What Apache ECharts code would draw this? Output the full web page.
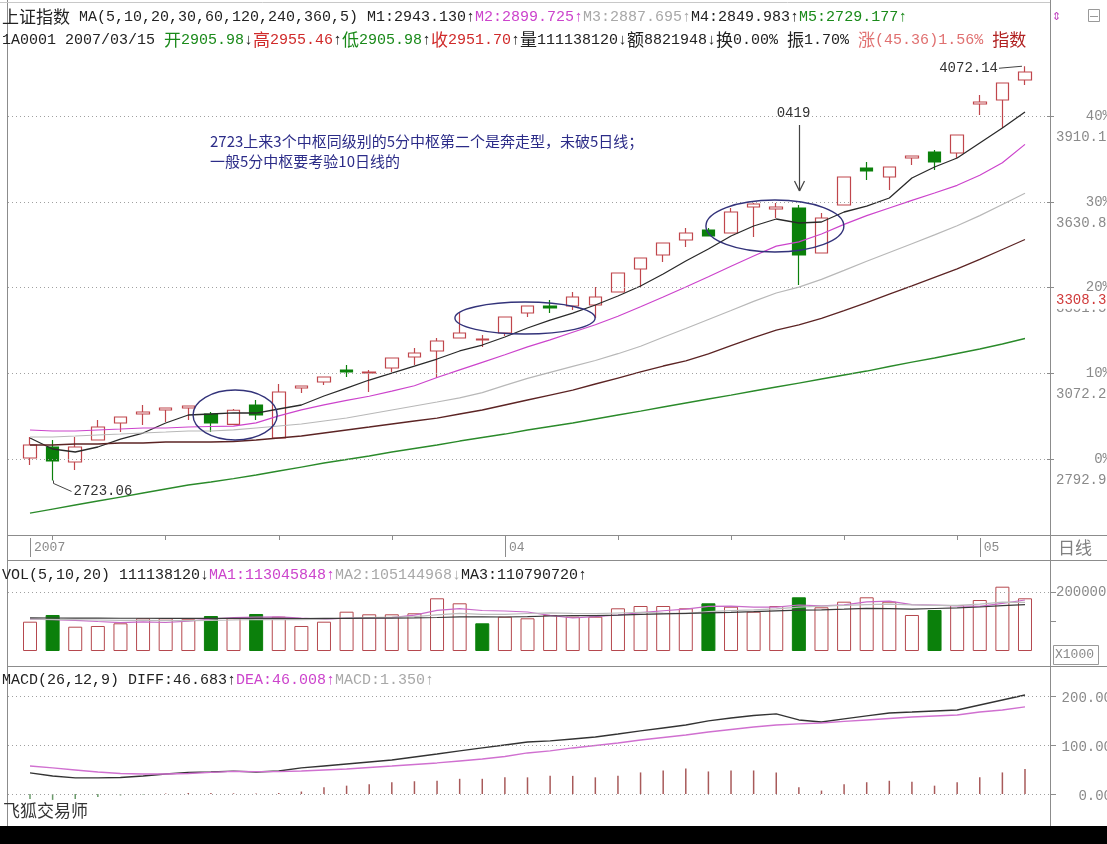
<!DOCTYPE html>
<html><head><meta charset="utf-8">
<script src="https://cdn.jsdelivr.net/npm/echarts@6/dist/echarts.min.js"></script>
<style>html,body{margin:0;padding:0;background:#fff;}#c{width:1107px;height:844px;}</style>
</head><body><div id="c"></div>
<script>
// ---------------- DATA ----------------
const dates = ['2007-03-02','2007-03-05','2007-03-06','2007-03-07','2007-03-08','2007-03-09',
 '2007-03-12','2007-03-13','2007-03-14','2007-03-15','2007-03-16',
 '2007-03-19','2007-03-20','2007-03-21','2007-03-22','2007-03-23',
 '2007-03-26','2007-03-27','2007-03-28','2007-03-29','2007-03-30',
 '2007-04-02','2007-04-03','2007-04-04','2007-04-05','2007-04-06',
 '2007-04-09','2007-04-10','2007-04-11','2007-04-12','2007-04-13',
 '2007-04-16','2007-04-17','2007-04-18','2007-04-19','2007-04-20',
 '2007-04-23','2007-04-24','2007-04-25','2007-04-26','2007-04-27',
 '2007-04-30','2007-05-08','2007-05-09','2007-05-10'];
const opens  = [2796.2,2832.0,2783.1,2854.8,2910.2,2939.5,2952.5,2959.0,2939.5,2905.98,
 2968.8,2861.3,3024.1,3043.7,3082.8,3073.0,3089.3,3125.1,3144.7,3187.0,
 3180.5,3203.3,3268.4,3291.2,3291.2,3294.5,3336.8,3411.7,3457.3,3506.2,
 3538.8,3529.0,3613.7,3607.2,3610.4,3463.8,3620.2,3740.7,3711.4,3773.3,
 3792.8,3789.5,3949.1,3962.2,4027.3];
const closes = [2838.5,2786.4,2832.0,2897.1,2929.7,2946.0,2959.0,2965.5,2910.2,2951.70,
 2936.2,3011.1,3030.7,3060.0,3076.3,3076.3,3121.9,3138.1,3177.2,3203.3,
 3183.7,3255.4,3291.2,3284.7,3320.5,3320.5,3398.7,3447.6,3496.4,3529.0,
 3519.2,3597.4,3623.4,3613.7,3457.3,3577.8,3711.4,3730.9,3743.9,3779.8,
 3760.2,3848.2,3955.6,4017.5,4053.4];
const lows   = [2773.4,2723.06,2757.1,2854.8,2880.8,2903.6,2913.4,2919.9,2880.8,2905.98,
 2919.9,2861.3,3007.9,3033.9,3060.0,3011.1,3076.3,3099.1,3056.7,3187.0,
 3157.7,3193.5,3255.4,3268.4,3278.2,3252.1,3336.8,3353.1,3434.5,3483.4,
 3519.2,3529.0,3516.0,3577.8,3359.6,3463.8,3620.2,3701.6,3669.0,3750.5,
 3734.2,3773.3,3913.3,3871.0,4011.0];
const highs  = [2864.6,2854.8,2864.6,2919.9,2929.7,2968.8,2959.0,2965.5,2946.0,2955.46,
 2985.1,3037.2,3030.7,3060.0,3099.1,3082.8,3121.9,3154.4,3187.0,3271.7,
 3196.8,3255.4,3291.2,3310.8,3336.8,3353.1,3398.7,3447.6,3496.4,3545.3,
 3545.3,3610.4,3626.7,3626.7,3620.2,3594.1,3711.4,3760.2,3743.9,3779.8,
 3799.3,3848.2,3978.4,4017.5,4072.14];
const ma5  = [2861.3,2825.5,2815.7,2832.0,2858.0,2877.6,2910.2,2936.2,2939.5,2943.13,
 2942.7,2955.8,2968.8,2998.1,3024.1,3050.2,3073.0,3095.8,3118.6,3144.7,
 3164.2,3190.3,3219.6,3245.6,3268.4,3294.5,3323.8,3356.4,3395.4,3437.8,
 3476.9,3519.2,3551.8,3574.6,3561.6,3564.8,3597.4,3616.9,3643.0,3708.1,
 3743.9,3773.3,3822.1,3871.0,3923.1];
const ma10 = [2887.4,2884.1,2884.1,2887.4,2890.6,2893.9,2893.9,2897.1,2898.8,2899.73,
 2910.8,2933.3,2953.1,2969.4,2984.1,2997.4,3014.0,3031.6,3058.3,3083.1,
 3107.8,3132.3,3158.3,3181.1,3205.6,3230.0,3257.7,3288.6,3320.5,3353.1,
 3386.7,3420.8,3454.1,3486.3,3500.0,3525.7,3557.0,3585.7,3610.4,3635.2,
 3659.3,3684.3,3717.3,3757.9,3817.6];
const ma20 = [2864.6,2864.6,2867.8,2871.1,2874.3,2877.6,2880.8,2884.1,2884.1,2887.70,
 2893.9,2900.4,2906.9,2916.7,2926.4,2939.5,2952.5,2965.5,2978.5,2991.9,
 3009.2,3032.6,3055.7,3075.3,3094.8,3113.7,3135.9,3160.0,3189.3,3217.9,
 3247.2,3276.6,3306.2,3333.6,3352.8,3377.9,3407.2,3437.1,3465.5,3494.1,
 3522.8,3552.4,3585.7,3622.1,3658.6];
const ma30 = [2838.5,2838.5,2841.8,2841.8,2845.0,2845.0,2848.3,2848.3,2848.3,2849.98,
 2854.8,2861.3,2867.8,2877.6,2887.4,2897.1,2906.9,2916.7,2926.4,2939.5,
 2952.5,2968.8,2985.1,3001.3,3017.6,3037.2,3056.7,3076.3,3095.8,3112.4,
 3135.2,3162.2,3188.6,3212.4,3230.0,3251.2,3276.2,3302.0,3329.7,3357.0,
 3384.7,3412.4,3443.3,3475.3,3507.8];
const ma60 = [2617.0,2630.0,2643.1,2656.1,2669.1,2682.2,2695.2,2708.2,2718.0,2729.18,
 2740.8,2753.8,2766.8,2779.9,2791.3,2802.7,2815.7,2827.1,2838.5,2851.5,
 2862.9,2874.3,2887.4,2898.8,2910.2,2923.2,2936.2,2949.2,2962.3,2975.3,
 2988.3,3001.3,3014.4,3027.4,3040.4,3053.5,3066.5,3079.5,3094.2,3108.8,
 3121.9,3136.5,3151.2,3167.5,3185.4];
// volume in units of 1000 shares
const volume = [99320,122034,82373,84746,93898,110847,110847,107458,118644,111138,
 125424,116271,84746,99320,133220,124407,124407,127797,178644,161695,
 93898,116271,110847,122034,116271,116271,144746,152542,152542,144746,
 161695,150169,133220,152542,182034,148136,167119,182034,167119,122034,
 138983,155932,172881,217966,178644];
const volUp = [1,0,1,1,1,1,1,1,0,1, 0,1,1,1,1,1,1,1,1,1, 0,1,1,1,1,1,1,1,1,1,
 0,1,1,1,0,1,1,1,1,1, 0,1,1,1,1];
const volMa1 = [108000,106000,104000,100000,96474,98780,96542,101559,108339,113046,
 114702,115787,111245,107380,111796,111593,113220,121830,137695,143390,
 137288,135661,132271,120949,111864,116339,122034,130373,136474,142169,
 151254,152339,148474,148474,155932,153220,156610,166373,169288,157288,
 155458,153220,151390,161559,172881];
const volMa2 = [108000,107000,106000,105000,104000,104000,103000,103000,104000,105145,
 106741,106165,106402,107860,111792,113148,114504,116538,122538,127594,
 124441,124441,127051,129322,127627,126814,128847,131322,128712,127017,
 133797,137187,139424,142475,149051,152238,154475,157424,158882,156611,
 154340,154916,158882,165424,165085];
const volMa3 = [112000,111800,111500,111300,111100,111000,110900,110850,110800,110791,
 110500,110300,110200,110400,110800,111200,111600,112200,113500,115862,
 115591,115303,116726,118591,119709,119981,121675,123930,125625,127305,
 129119,130813,133237,135898,138339,139525,141661,144373,143797,141814,
 144068,146051,149153,153949,157068];
const diff = [42.9,36.7,32.7,32.7,33.7,36.7,40.8,43.9,44.9,46.68,
 44.9,46.9,53.1,57.1,61.2,65.3,69.4,75.5,81.6,87.8,
 93.9,100.0,106.1,108.2,112.2,116.3,122.4,128.6,134.7,140.8,
 149.0,155.1,160.2,163.3,151.0,146.9,153.1,159.2,165.3,167.3,
 169.4,171.4,181.6,191.8,202.0];
const dea = [57.1,53.1,49.0,44.9,41.8,40.8,40.8,41.8,44.0,46.01,
 45.5,45.5,46.9,49.0,51.0,54.1,57.1,60.2,63.3,67.3,
 71.4,76.5,83.7,87.8,93.9,99.0,104.1,110.2,115.3,120.4,
 126.5,131.6,136.7,140.8,142.9,144.9,148.0,151.0,154.1,157.1,
 159.2,161.2,167.3,171.4,177.6];
const macd = [-10,-12,-10,-6,-3,-1,1,2,2,1.35,
 1,2,5,14,17,20,24,26,27,31,
 31,34,34,37,37,34,37,44,48,52,
 46,48,48,44,14,7,20,24,27,25,
 17,24,34,44,51];
const pctBase = 2792.96;
const pctLevels = [0, 10, 20, 30, 40];
const cursorPrice = 3308.3;
const volTicks = [100000, 200000];
const macdTicks = [0, 100, 200];

// ---------------- STYLE ----------------
const MONO = "'Liberation Mono','DejaVu Sans Mono',monospace";
const CJK = "'Noto Sans CJK SC','Noto Sans',sans-serif";
const COL = {up:'#c0464c', down:'#0b800b', ma5:'#2a2a2a', ma10:'#cc44cc', ma20:'#b8b8b8',
  ma30:'#5c2424', ma60:'#2a8a2a', dot:'#a0a0a0', frame:'#8c8c8c', axis:'#8a8a8a', note:'#2c2c88'};

const chart = echarts.init(document.getElementById('c'), null, {renderer:'canvas'});
const L = 18.7, R = 70.7;
const monthOf = d => d.slice(5,7);
const isLabel = i => i === 0 || monthOf(dates[i]) !== monthOf(dates[i-1]);

const lineS = (name, data, color, g, w) => ({name, type:'line', data, xAxisIndex:g, yAxisIndex:g,
  symbol:'none', showSymbol:false, silent:true, z:4, lineStyle:{color, width:w||1.2}, itemStyle:{color}});

const candleData = opens.map((o,i)=>[o, closes[i], lows[i], highs[i]]);

const option = {
  animation:false,
  backgroundColor:'#ffffff',
  grid:[
    {left:L, right:R, top:40, bottom:309, outerBoundsMode:'none'},
    {left:L, right:R, top:565, bottom:193, outerBoundsMode:'none'},
    {left:L, right:R, top:668, bottom:18, outerBoundsMode:'none'}
  ],
  xAxis:[
    {type:'category', gridIndex:0, data:dates, boundaryGap:true,
      axisLine:{show:false}, splitLine:{show:false},
      axisTick:{show:true, alignWithLabel:true, length:5, interval:(i)=>i%5===1, lineStyle:{color:COL.frame}},
      axisLabel:{show:true, interval:(i)=>isLabel(i), formatter:(v,i)=> i===0 ? v.slice(0,4) : monthOf(v),
        align:'left', padding:[0,0,0,4], margin:6, color:COL.axis, fontFamily:MONO, fontSize:13}},
    {type:'category', gridIndex:1, data:dates, boundaryGap:true, show:false},
    {type:'category', gridIndex:2, data:dates, boundaryGap:true, show:false}
  ],
  yAxis:[
    {type:'value', gridIndex:0, min:2545.4, max:4157.6, show:false, splitLine:{show:false}},
    {type:'value', gridIndex:1, min:0, max:291525, show:false, splitLine:{show:false}},
    {type:'value', gridIndex:2, min:-65.3, max:257.1, show:false, splitLine:{show:false}}
  ],
  series:[
    {name:'K', type:'candlestick', data:candleData, xAxisIndex:0, yAxisIndex:0, barWidth:13, z:2,
      itemStyle:{color:'#ffffff', color0:COL.down, borderColor:COL.up, borderColor0:COL.down, borderWidth:1.2}},
    lineS('MA5', ma5, COL.ma5, 0, 1.3),
    lineS('MA10', ma10, COL.ma10, 0, 1.2),
    lineS('MA20', ma20, COL.ma20, 0, 1.2),
    lineS('MA30', ma30, COL.ma30, 0, 1.3),
    lineS('MA60', ma60, COL.ma60, 0, 1.3),
    {name:'VOL', type:'bar', xAxisIndex:1, yAxisIndex:1, barWidth:14, z:2,
      data: volume.map((v,i)=>({value:v, itemStyle: volUp[i]
        ? {color:'#ffffff', borderColor:'#b5484e', borderWidth:1}
        : {color:COL.down, borderColor:COL.down, borderWidth:1}}))},
    lineS('VMA1', volMa1, '#c86ac8', 1, 1.2),
    lineS('VMA2', volMa2, '#bdbdbd', 1, 1.2),
    lineS('VMA3', volMa3, '#3a3a3a', 1, 1.2),
    {name:'MACD', type:'bar', xAxisIndex:2, yAxisIndex:2, barWidth:1.5, z:2,
      data: macd.map(v=>({value:v, itemStyle:{color: v>=0 ? '#a85a5a' : '#6a9a6a'}}))},
    lineS('DIFF', diff, '#333333', 2, 1.3),
    lineS('DEA', dea, '#d070d0', 2, 1.3)
  ]
};
chart.setOption(option);

// ---------------- DECORATION (positions from the chart's scales) ----------------
const x0 = chart.convertToPixel({xAxisIndex:0}, 0);
const step = chart.convertToPixel({xAxisIndex:0}, 1) - x0;
const X = i => x0 + i*step;
const Y = (v, g) => chart.convertToPixel({yAxisIndex:g||0}, v);
const G = [];
const ln = (x1,y1,x2,y2,stroke,lw,dash) => G.push({type:'line', silent:true, z:10,
  shape:{x1,y1,x2,y2}, style:{stroke, lineWidth:lw||1, lineDash:dash||null}});
const tx = (x,y,t,font,fill,align,extra) => G.push({type:'text', silent:true, z:20, x, y,
  style:Object.assign({text:t, font, fill, align:align||'left', verticalAlign:'middle',
    textAlign:align||'left', textVerticalAlign:'middle'}, extra||{})});
const F = (s, cjk) => `${s}px ${cjk ? CJK : MONO}`;

// black band at bottom
G.push({type:'rect', silent:true, z:30, shape:{x:0,y:826,width:1107,height:18}, style:{fill:'#000'}});
// frame
ln(7.5,0,7.5,826,COL.frame);
ln(1050.5,0,1050.5,826,COL.frame);
ln(0,2.5,1050,2.5,'#c8c8c8');
ln(7,535.5,1107,535.5,COL.frame);
ln(7,560.5,1107,560.5,COL.frame);
ln(7,666.5,1107,666.5,COL.frame);

// price grid (percent from base)
pctLevels.forEach(p=>{
  const v = pctBase*(1+p/100), y = Math.round(Y(v))+0.5;
  ln(8,y,1050,y,COL.dot,1,[1,3]);
  ln(1047,y,1054,y,COL.frame);
  tx(1111,y,p+'%',F(14),COL.axis,'right');
  tx(1056,y+21,v.toFixed(2),F(14),COL.axis,'left');
});
tx(1056,Y(cursorPrice),cursorPrice.toFixed(1),F(14),'#d03a3a','left',{backgroundColor:'#fff', padding:[1,6,1,0]});

// date row label ticks
dates.forEach((d,i)=>{ if(isLabel(i)) ln(Math.round(X(i))+0.5,538,Math.round(X(i))+0.5,557,COL.frame); });
tx(1058,548,'日线',F(17,true),'#808080');

// volume axis
volTicks.forEach(v=>{
  const y = Math.round(Y(v,1))+0.5;
  if (v === 200000) { ln(8,y,1050,y,COL.dot,1,[1,3]); tx(1056,y,String(v),F(14),COL.axis,'left'); }
  ln(1050,y,1056,y,COL.frame);
});
G.push({type:'rect', silent:true, z:20, shape:{x:1053.5,y:645.5,width:45,height:19}, style:{fill:'none', stroke:'#999', lineWidth:1}});
tx(1055,655,'X1000',F(13),COL.axis,'left');

// macd axis
macdTicks.forEach(v=>{
  const y = Math.round(Y(v,2))+0.5;
  ln(8,y,1050,y,COL.dot,1,[1,3]);
  ln(1050,y,1056,y,COL.frame);
  tx(1112,y+2,v.toFixed(2),F(14),COL.axis,'right');
});

// headers (rich text)
const rs = (fill,cjk,size) => ({fill, color:fill, font:F(size|| (cjk?17:15), cjk)});
const rich = {k:rs('#222'), m:rs('#cc44cc'), g:rs('#a8a8a8'), gr:rs('#1a8a1a'), r:rs('#d02a2a'), p:rs('#e07070'),
  ck:rs('#222',true), cgr:rs('#1a8a1a',true), cr:rs('#d02a2a',true), cp:rs('#e07070',true), cdr:rs('#b02020',true)};
const rt = (x,y,segs) => G.push({type:'text', silent:true, z:20, x, y,
  style:{text:segs.map(s=>`{${s[1]}|${s[0]}}`).join(''), rich, align:'left', verticalAlign:'middle', textAlign:'left', textVerticalAlign:'middle'}});
rt(2,17,[['上证指数','ck'],[' MA(5,10,20,30,60,120,240,360,5) ','k'],['M1:2943.130','k'],['↑','k'],
  ['M2:2899.725','m'],['↑','m'],['M3:2887.695','g'],['↑','g'],['M4:2849.983','k'],['↑','k'],['M5:2729.177','gr'],['↑','gr']]);
rt(2,40,[['1A0001 2007/03/15 ','k'],['开','cgr'],['2905.98','gr'],['↓','k'],['高','cr'],['2955.46','r'],['↑','k'],
  ['低','cgr'],['2905.98','gr'],['↑','k'],['收','cr'],['2951.70','r'],['↑','k'],['量','ck'],['111138120','k'],['↓','k'],
  ['额','ck'],['8821948','k'],['↓','k'],['换','ck'],['0.00% ','k'],['振','ck'],['1.70% ','k'],['涨','cp'],['(45.36)1.56% ','p'],['指数','cdr']]);
rt(2,575,[['VOL(5,10,20) 111138120','k'],['↓','k'],['MA1:113045848','m'],['↑','m'],['MA2:105144968','g'],['↓','g'],['MA3:110790720','k'],['↑','k']]);
rt(2,680,[['MACD(26,12,9) DIFF:46.683','k'],['↑','k'],['DEA:46.008','m'],['↑','m'],['MACD:1.350','g'],['↑','g']]);
tx(1052,16,'⇕',F(15),'#c040c0','left');
G.push({type:'rect', silent:true, z:20, shape:{x:1088.5,y:9.5,width:11,height:12}, style:{fill:'none', stroke:'#999', lineWidth:1}});
ln(1090,16.5,1098,16.5,'#999');
tx(3,811,'飞狐交易师',F(17,true),'#333','left');

// annotations
tx(210,141,'2723上来3个中枢同级别的5分中枢第二个是奔走型，未破5日线；',F(15,true),COL.note,'left');
tx(210,161,'一般5分中枢要考验10日线的',F(15,true),COL.note,'left');
const ell = (ci, cp, di, dp) => {
  const cx = X(ci), cy = Y(cp), rx = di*step, ry = Math.abs(Y(cp+dp)-cy);
  G.push({type:'ellipse', silent:true, z:12, shape:{cx, cy, rx, ry}, style:{fill:'none', stroke:'#33337a', lineWidth:1.4}});
};
ell(9.07, 2936.2, 1.86, 81.4);
ell(21.89, 3252.1, 3.1, 52);
ell(32.94, 3551.8, 3.05, 84.7);
// 0419 arrow
const ai = dates.indexOf('2007-04-19');
const ax = Math.round(X(ai))+0.5, ay = Y(highs[ai]);
ln(ax, ay-80, ax, ay-14, '#444', 1.2);
ln(ax-5, ay-24, ax, ay-14, '#444', 1.2);
ln(ax+5, ay-24, ax, ay-14, '#444', 1.2);
tx(ax-6, ay-92, dates[ai].slice(5).replace('-',''), F(14), '#333', 'center');
// max / min labels
const hi = highs.indexOf(Math.max(...highs)), lo = lows.indexOf(Math.min(...lows));
const hx = X(hi), hy = Y(highs[hi]);
ln(hx-26, hy+2, hx-3, hy, '#444', 1);
tx(hx-27, hy+2, highs[hi].toFixed(2), F(14), '#333', 'right');
const lx = Math.round(X(lo))+0.5, ly = Y(lows[lo]);
G.push({type:'polyline', silent:true, z:12, shape:{points:[[lx,ly],[lx,ly+3],[lx+18,ly+11]]}, style:{fill:'none', stroke:'#444', lineWidth:1}});
tx(lx+20, ly+11, lows[lo].toFixed(2), F(14), '#333', 'left');

chart.setOption({graphic: G});
</script>
</body></html>
